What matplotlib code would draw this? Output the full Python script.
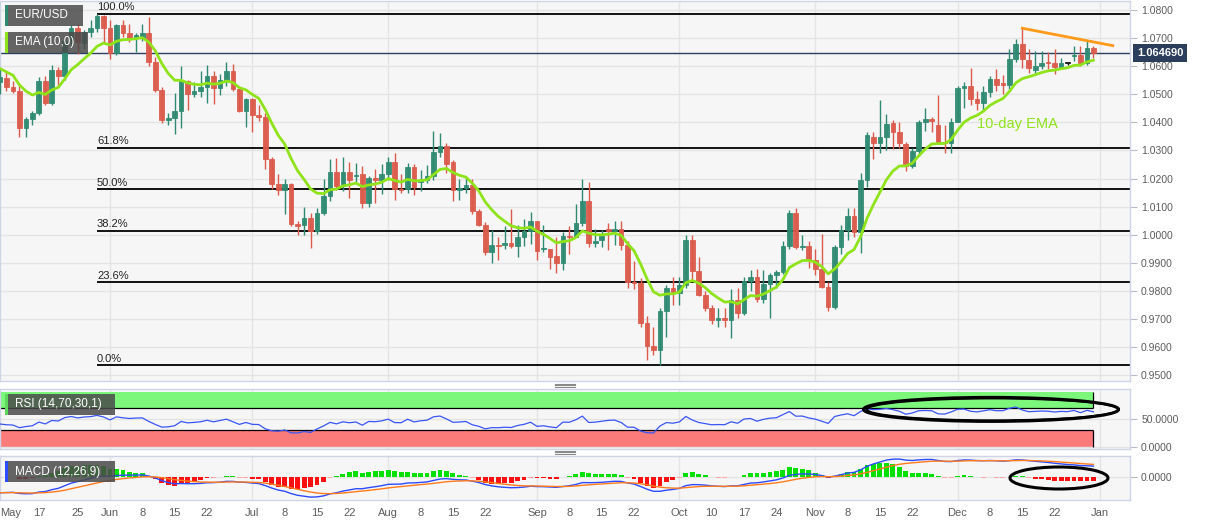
import numpy as np
import pandas as pd
import matplotlib
matplotlib.use("Agg")
import matplotlib.pyplot as plt
from matplotlib.patches import Ellipse, Rectangle
from matplotlib.lines import Line2D
from matplotlib.transforms import blended_transform_factory

plt.rcParams['font.family'] = ['Liberation Sans', 'DejaVu Sans']

# ---- data (EUR/USD daily) ----
dates = pd.bdate_range('2022-05-09', '2022-12-30')

opens = [
    # May
    1.0545, 1.0559, 1.0525, 1.0513, 1.0380, 1.0412, 1.0434, 1.0548, 1.0468, 1.0586,
    1.0565, 1.0690, 1.0735, 1.0683, 1.0721, 1.0735, 1.0780,
    # Jun
    1.0735, 1.0646, 1.0747, 1.0719, 1.0699, 1.0702, 1.0717, 1.0616, 1.0515, 1.0408,
    1.0414, 1.0440, 1.0548, 1.0500, 1.0512, 1.0527, 1.0565, 1.0521, 1.0551, 1.0584,
    1.0518, 1.0440,
    # Jul
    1.0482, 1.0426, 1.0420, 1.0268, 1.0180, 1.0159, 1.0182, 1.0037, 1.0034, 1.0058,
    1.0013, 1.0078, 1.0139, 1.0222, 1.0174, 1.0224, 1.0210, 1.0216, 1.0114, 1.0203,
    1.0195,
    # Aug
    1.0216, 1.0257, 1.0163, 1.0163, 1.0242, 1.0189, 1.0195, 1.0210, 1.0296, 1.0316,
    1.0257, 1.0159, 1.0165, 1.0177, 1.0084, 1.0034, 0.9939, 0.9963, 0.9963, 0.9969,
    0.9960, 0.9993, 1.0013,
    # Sep
    1.0049, 0.9948, 0.9948, 0.9924, 0.9900, 0.9995, 0.9993, 1.0040, 1.0120, 0.9969,
    0.9981, 1.0020, 1.0014, 1.0019, 0.9965, 0.9833, 0.9829, 0.9687, 0.9603, 0.9589,
    0.9728, 0.9811,
    # Oct
    0.9791, 0.9821, 0.9981, 0.9872, 0.9785, 0.9740, 0.9696, 0.9702, 0.9696, 0.9767,
    0.9720, 0.9835, 0.9850, 0.9770, 0.9823, 0.9856, 0.9868, 0.9960, 1.0076, 0.9957,
    0.9960,
    # Nov
    0.9910, 0.9876, 0.9815, 0.9743, 0.9957, 1.0017, 1.0066, 1.0011, 1.0195, 1.0349,
    1.0328, 1.0349, 1.0396, 1.0364, 1.0322, 1.0246, 1.0298, 1.0402, 1.0411, 1.0390,
    1.0331, 1.0325,
    # Dec
    1.0402, 1.0524, 1.0529, 1.0482, 1.0468, 1.0507, 1.0553, 1.0539, 1.0533, 1.0624,
    1.0678, 1.0622, 1.0586, 1.0602, 1.0613, 1.0610, 1.0598, 1.0610, 1.0636, 1.0640,
    1.0610, 1.0666,
]
highs = [
    1.0592, 1.0580, 1.0548, 1.0530, 1.0420, 1.0440, 1.0560, 1.0565, 1.0605, 1.0598,
    1.0697, 1.0748, 1.0749, 1.0730, 1.0765, 1.0787, 1.0782,
    1.0764, 1.0750, 1.0764, 1.0750, 1.0718, 1.0749, 1.0774, 1.0632, 1.0525, 1.0434,
    1.0505, 1.0601, 1.0551, 1.0545, 1.0583, 1.0605, 1.0583, 1.0573, 1.0615, 1.0606,
    1.0530, 1.0487,
    1.0486, 1.0463, 1.0435, 1.0275, 1.0215, 1.0200, 1.0185, 1.0047, 1.0100, 1.0078,
    1.0096, 1.0200, 1.0268, 1.0274, 1.0278, 1.0258, 1.0255, 1.0245, 1.0210, 1.0235,
    1.0250,
    1.0275, 1.0292, 1.0217, 1.0254, 1.0253, 1.0230, 1.0248, 1.0368, 1.0363, 1.0325,
    1.0267, 1.0200, 1.0202, 1.0200, 1.0090, 1.0045, 1.0015, 0.9990, 1.0030, 1.0090,
    1.0036, 1.0055, 1.0080,
    1.0050, 1.0034, 0.9950, 0.9990, 1.0010, 1.0030, 1.0110, 1.0198, 1.0188, 1.0020,
    1.0018, 1.0040, 1.0050, 1.0050, 0.9977, 0.9906, 0.9847, 0.9710, 0.9670, 0.9740,
    0.9820, 0.9850,
    0.9850, 0.9999, 0.9998, 0.9920, 0.9800, 0.9750, 0.9740, 0.9740, 0.9808, 0.9810,
    0.9850, 0.9875, 0.9878, 0.9875, 0.9865, 0.9875, 0.9977, 1.0088, 1.0094, 1.0000,
    0.9977,
    0.9950, 1.0002, 0.9830, 0.9965, 1.0035, 1.0095, 1.0095, 1.0220, 1.0365, 1.0365,
    1.0480, 1.0430, 1.0410, 1.0400, 1.0330, 1.0310, 1.0410, 1.0450, 1.0418, 1.0497,
    1.0390, 1.0415,
    1.0530, 1.0545, 1.0595, 1.0510, 1.0530, 1.0565, 1.0590, 1.0570, 1.0660, 1.0695,
    1.0735, 1.0660, 1.0655, 1.0655, 1.0650, 1.0660, 1.0630, 1.0615, 1.0670, 1.0670,
    1.0688, 1.0670,
]
lows = [
    1.0500, 1.0511, 1.0505, 1.0349, 1.0349, 1.0390, 1.0425, 1.0460, 1.0462, 1.0533,
    1.0550, 1.0670, 1.0642, 1.0660, 1.0705, 1.0720, 1.0682,
    1.0627, 1.0640, 1.0705, 1.0685, 1.0650, 1.0690, 1.0602, 1.0507, 1.0398, 1.0390,
    1.0359, 1.0380, 1.0445, 1.0490, 1.0490, 1.0470, 1.0467, 1.0498, 1.0530, 1.0510,
    1.0438, 1.0383,
    1.0366, 1.0404, 1.0235, 1.0161, 1.0143, 1.0072, 1.0030, 0.9998, 0.9998, 0.9952,
    1.0003, 1.0070, 1.0120, 1.0160, 1.0154, 1.0130, 1.0180, 1.0095, 1.0100, 1.0113,
    1.0145,
    1.0195, 1.0123, 1.0147, 1.0147, 1.0141, 1.0157, 1.0185, 1.0195, 1.0275, 1.0221,
    1.0121, 1.0123, 1.0150, 1.0075, 1.0031, 0.9926, 0.9900, 0.9910, 0.9950, 0.9951,
    0.9920, 0.9960, 0.9967,
    0.9910, 0.9940, 0.9876, 0.9864, 0.9875, 0.9930, 0.9990, 1.0030, 0.9955, 0.9955,
    0.9955, 0.9945, 0.9965, 0.9945, 0.9810, 0.9808, 0.9670, 0.9553, 0.9573, 0.9536,
    0.9635, 0.9750,
    0.9750, 0.9810, 0.9835, 0.9782, 0.9730, 0.9683, 0.9670, 0.9670, 0.9632, 0.9705,
    0.9715, 0.9800, 0.9760, 0.9755, 0.9705, 0.9809, 0.9860, 0.9950, 0.9950, 0.9945,
    0.9880,
    0.9855, 0.9810, 0.9730, 0.9735, 0.9930, 0.9980, 0.9990, 0.9935, 1.0170, 1.0270,
    1.0290, 1.0300, 1.0305, 1.0310, 1.0225, 1.0238, 1.0280, 1.0370, 1.0365, 1.0325,
    1.0290, 1.0290,
    1.0400, 1.0450, 1.0460, 1.0445, 1.0445, 1.0490, 1.0510, 1.0500, 1.0520, 1.0615,
    1.0595, 1.0575, 1.0575, 1.0590, 1.0590, 1.0573, 1.0590, 1.0605, 1.0620, 1.0600,
    1.0605, 1.0630,
]
closes = [
    1.0562, 1.0527, 1.0513, 1.0379, 1.0412, 1.0434, 1.0548, 1.0468, 1.0586, 1.0565,
    1.0690, 1.0735, 1.0687, 1.0721, 1.0735, 1.0780, 1.0735,
    1.0646, 1.0747, 1.0719, 1.0699, 1.0711, 1.0717, 1.0616, 1.0515, 1.0408, 1.0414,
    1.0440, 1.0548, 1.0500, 1.0512, 1.0527, 1.0565, 1.0521, 1.0551, 1.0584, 1.0518,
    1.0440, 1.0482,
    1.0426, 1.0420, 1.0268, 1.0180, 1.0159, 1.0182, 1.0037, 1.0032, 1.0058, 1.0013,
    1.0078, 1.0139, 1.0222, 1.0174, 1.0224, 1.0195, 1.0213, 1.0114, 1.0203, 1.0195,
    1.0216,
    1.0257, 1.0163, 1.0160, 1.0242, 1.0168, 1.0195, 1.0209, 1.0296, 1.0316, 1.0251,
    1.0159, 1.0165, 1.0177, 1.0084, 1.0034, 0.9939, 0.9963, 0.9960, 0.9969, 0.9960,
    0.9993, 1.0013, 1.0049,
    0.9943, 0.9953, 0.9921, 0.9900, 0.9995, 0.9993, 1.0040, 1.0120, 0.9969, 0.9977,
    0.9995, 1.0014, 1.0020, 0.9965, 0.9833, 0.9829, 0.9687, 0.9603, 0.9589, 0.9728,
    0.9811, 0.9791,
    0.9821, 0.9981, 0.9872, 0.9785, 0.9740, 0.9696, 0.9702, 0.9696, 0.9767, 0.9720,
    0.9835, 0.9850, 0.9770, 0.9823, 0.9856, 0.9868, 0.9960, 1.0076, 0.9957, 0.9960,
    0.9910,
    0.9876, 0.9815, 0.9743, 0.9957, 1.0017, 1.0066, 1.0011, 1.0195, 1.0355, 1.0328,
    1.0349, 1.0394, 1.0367, 1.0325, 1.0246, 1.0298, 1.0400, 1.0411, 1.0405, 1.0331,
    1.0325, 1.0402,
    1.0521, 1.0529, 1.0482, 1.0468, 1.0507, 1.0553, 1.0533, 1.0533, 1.0624, 1.0678,
    1.0624, 1.0592, 1.0602, 1.0613, 1.0610, 1.0598, 1.0613, 1.0610, 1.0640, 1.0610,
    1.0666, 1.0647,
]

# values of the indicators just before the first candle (estimated from the panels)
prev_close = 1.0530
ema10_seed = 1.0598
ema12_seed = 1.0618
ema26_seed = 1.0735
signal_seed = -0.0112
rsi_gain_seed = 0.0034
rsi_loss_seed = 0.0052
hist_scale = 2.0  # histogram is drawn taller than the lines on this chart

fib_high = 1.0787
fib_low = 0.9536
fib_ratios = [1.0, 0.618, 0.5, 0.382, 0.236, 0.0]
fib_names = ['100.0%', '61.8%', '50.0%', '38.2%', '23.6%', '0.0%']
fib_start = '2022-05-30'

last_price = 1.064690
trend_dates = ['2022-12-15', '2023-01-04']
trend_values = [1.0735, 1.0673]

tick_dates = ['2022-05-09', '2022-05-17', '2022-05-25', '2022-06-01', '2022-06-08', '2022-06-15',
              '2022-06-22', '2022-07-01', '2022-07-08', '2022-07-15', '2022-07-22', '2022-08-01',
              '2022-08-08', '2022-08-15', '2022-08-22', '2022-09-01', '2022-09-08', '2022-09-15',
              '2022-09-22', '2022-10-03', '2022-10-10', '2022-10-17', '2022-10-24', '2022-11-01',
              '2022-11-08', '2022-11-15', '2022-11-22', '2022-12-01', '2022-12-08', '2022-12-15',
              '2022-12-22', '2023-01-02']
tick_names = ['May', '17', '25', 'Jun', '8', '15', '22', 'Jul', '8', '15', '22', 'Aug', '8', '15',
              '22', 'Sep', '8', '15', '22', 'Oct', '10', '17', '24', 'Nov', '8', '15', '22', 'Dec',
              '8', '15', '22', 'Jan']
month_dates = ['2022-06-01', '2022-07-01', '2022-08-01', '2022-09-01', '2022-10-03',
               '2022-11-01', '2022-12-01', '2023-01-02']

assert len(opens) == len(highs) == len(lows) == len(closes) == len(dates)

opens, highs, lows, closes = map(np.array, (opens, highs, lows, closes))
n = len(closes)
x = np.arange(n)


def idx(d):
    # trading-day position of a date on the chart axis
    return int(np.busday_count('2022-05-09', d))


def ema(values, span, seed):
    k = 2.0 / (span + 1)
    out, prev = [], seed
    for v in values:
        prev = prev + k * (v - prev)
        out.append(prev)
    return np.array(out)


def rsi(values, period, start, gain, loss):
    out, prev = [], start
    for v in values:
        d = v - prev
        gain = (gain * (period - 1) + max(d, 0)) / period
        loss = (loss * (period - 1) + max(-d, 0)) / period
        out.append(100 - 100 / (1 + gain / loss))
        prev = v
    return np.array(out)


ema10 = ema(closes, 10, ema10_seed)
macd = ema(closes, 12, ema12_seed) - ema(closes, 26, ema26_seed)
signal = ema(macd, 9, signal_seed)
hist = (macd - signal) * hist_scale
rsi14 = rsi(closes, 14, prev_close, rsi_gain_seed, rsi_loss_seed)

# ---- colours ----
bg = '#f6f6f6'
grid_c = '#e4e4e4'
spine_c = '#cfd5e6'
up_c = '#2f8a72'
down_c = '#db5a4b'
ema_c = '#8fe31a'
tick_c = '#5c5c5c'

W, H = 1207, 526
fig = plt.figure(figsize=(W / 100, H / 100), dpi=100)


def px_box(x0, y0, x1, y1):
    return [x0 / W, 1 - y1 / H, (x1 - x0) / W, (y1 - y0) / H]


ax = fig.add_axes(px_box(0, 1, 1130, 381))
ax_rsi = fig.add_axes(px_box(0, 389, 1130, 449), sharex=ax)
ax_macd = fig.add_axes(px_box(0, 456, 1130, 500), sharex=ax)

xmax = 1130 / 6.47
for a in (ax, ax_rsi, ax_macd):
    a.set_facecolor(bg)
    for s in a.spines.values():
        s.set_color(spine_c)
        s.set_linewidth(1)
    a.yaxis.tick_right()
    a.tick_params(axis='y', length=5, color='#b8bcc8', labelcolor=tick_c, labelsize=7.5, pad=3)
    a.tick_params(axis='x', length=0, labelbottom=False)
    for md in month_dates:
        a.axvline(idx(md), color=grid_c, lw=1, zorder=0)
    a.grid(axis='y', color=grid_c, lw=1, zorder=0)
ax.set_xlim(0, xmax)

# ---- main price panel ----
ax.set_ylim(0.9479, 1.0832)
ax.set_yticks(np.arange(0.95, 1.0801, 0.01))
ax.yaxis.set_major_formatter(matplotlib.ticker.FormatStrFormatter('%.4f'))

colors = np.where(closes > opens, up_c, np.where(closes < opens, down_c, '#111111'))
body_low = np.minimum(opens, closes)
body_h = np.maximum(np.abs(closes - opens), 0.0004)
ax.vlines(x, lows, highs, colors=colors, lw=1, zorder=3)
ax.bar(x, body_h, bottom=body_low, width=0.72, color=colors, edgecolor=colors,
       linewidth=0.6, alpha=0.95, zorder=4)

fx = idx(fib_start)
for r, name in zip(fib_ratios, fib_names):
    lvl = fib_low + r * (fib_high - fib_low)
    ax.hlines(lvl, fx, xmax, color='black', lw=1.3, zorder=2)
    ax.text(fx, lvl + 0.0005, name, fontsize=8, color='#222222', ha='left', va='bottom', zorder=2)

ax.axhline(last_price, color='#2b3f5e', lw=1, zorder=2.5)
ax.plot(x, ema10, color=ema_c, lw=2, zorder=5)
ax.plot([idx(d) for d in trend_dates], trend_values, color='#ff9a1a', lw=2, zorder=5)
ax.text(151, 1.0394, '10-day EMA', color=ema_c, fontsize=10.5, va='center', ha='left', zorder=6)

tr = blended_transform_factory(ax.transAxes, ax.transData)
ax.text(1.006, last_price, f'{last_price:.6f}', transform=tr, color='white', fontsize=8,
        fontweight='bold', va='center', ha='left', clip_on=False,
        bbox=dict(boxstyle='square,pad=0.35', fc='#2b3e5b', ec='none'))

# ---- RSI panel ----
ax_rsi.set_ylim(-4.2, 104.9)
ax_rsi.set_yticks([0, 50])
ax_rsi.yaxis.set_major_formatter(matplotlib.ticker.FormatStrFormatter('%.4f'))
band_x = [0, n - 1]
ax_rsi.fill_between(band_x, 70, 100, color='#7cf77c', lw=0, zorder=1)
ax_rsi.fill_between(band_x, 0, 30, color='#fb7b7b', lw=0, zorder=1)
ax_rsi.hlines([70, 30], 0, n - 1, color='black', lw=0.9, zorder=2)
ax_rsi.vlines(n - 1, 70, 100, color='black', lw=0.9, zorder=2)
ax_rsi.vlines(n - 1, 0, 30, color='black', lw=0.9, zorder=2)
ax_rsi.plot(x, rsi14, color='#3a55f5', lw=0.9, zorder=3)
ax_rsi.add_patch(Ellipse((991 / 1130, 0.66), 255 / 1130, 24 / 60, transform=ax_rsi.transAxes,
                         fill=False, ec='black', lw=2.2, zorder=6, clip_on=False))
ax_rsi.add_patch(Ellipse((993 / 1130, 0.66), 252 / 1130, 22 / 60, transform=ax_rsi.transAxes,
                         fill=False, ec='black', lw=1.5, zorder=6, clip_on=False))

# ---- MACD panel ----
top = np.abs(macd).max() / 0.93
ax_macd.set_ylim(-top * 22.7 / 21.3, top)
ax_macd.set_yticks([0])
ax_macd.yaxis.set_major_formatter(matplotlib.ticker.FormatStrFormatter('%.4f'))
small = np.abs(hist) < 0.0006
hist_c = np.where(hist >= 0, np.where(small, '#9cf09c', '#00e000'),
                  np.where(small, '#ffaaaa', '#ff1010'))
hist_h = np.where(hist >= 0, 1, -1) * np.maximum(np.abs(hist), 0.0005)
ax_macd.bar(x, hist_h, width=0.75, color=hist_c, zorder=2)
ax_macd.plot(x, macd, color='#2d4bff', lw=1, zorder=3)
ax_macd.plot(x, signal, color='#ff7b1c', lw=1, zorder=3)
ax_macd.add_patch(Ellipse((1059 / 1130, 0.5), 98 / 1130, 22 / 44, transform=ax_macd.transAxes,
                          fill=False, ec='black', lw=2.2, zorder=6, clip_on=False))

ax_macd.tick_params(axis='x', labelbottom=True, labelsize=8, labelcolor=tick_c, pad=6)
ax_macd.set_xticks([idx(d) for d in tick_dates])
ax_macd.set_xticklabels(tick_names)
ax_macd.get_xticklabels()[0].set_ha('left')
ax_macd.set_xlim(0, xmax)


# ---- legend boxes ----
def label_box(x0, y0, x1, y1, text, bar):
    fig.add_artist(Rectangle((x0 / W, 1 - y1 / H), (x1 - x0) / W, (y1 - y0) / H,
                             transform=fig.transFigure, fc='#4a4a4a', ec='none', alpha=0.85, zorder=10))
    fig.add_artist(Rectangle((x0 / W, 1 - y1 / H), 2.5 / W, (y1 - y0) / H,
                             transform=fig.transFigure, fc=bar, ec='none', zorder=11))
    fig.text((x0 + 10) / W, 1 - (y0 + y1) / 2 / H, text, color='white', fontsize=8.5,
             va='center', ha='left', zorder=12)


label_box(5, 5, 83, 26, 'EUR/USD', '#2f8a72')
label_box(5, 32, 88, 53, 'EMA (10,0)', ema_c)
label_box(5, 394, 115, 415, 'RSI (14,70,30,1)', '#5cd95c')
label_box(5, 461, 115, 482, 'MACD (12,26,9)', '#2d4bff')

# panel resize handles
for yy in (385, 452):
    for dy in (-1.5, 0, 1.5):
        fig.add_artist(Line2D([555 / W, 575 / W], [1 - (yy + dy) / H] * 2,
                              transform=fig.transFigure, color='#8a8a8a', lw=0.8))

fig.savefig('out.png', dpi=100, facecolor='white')
